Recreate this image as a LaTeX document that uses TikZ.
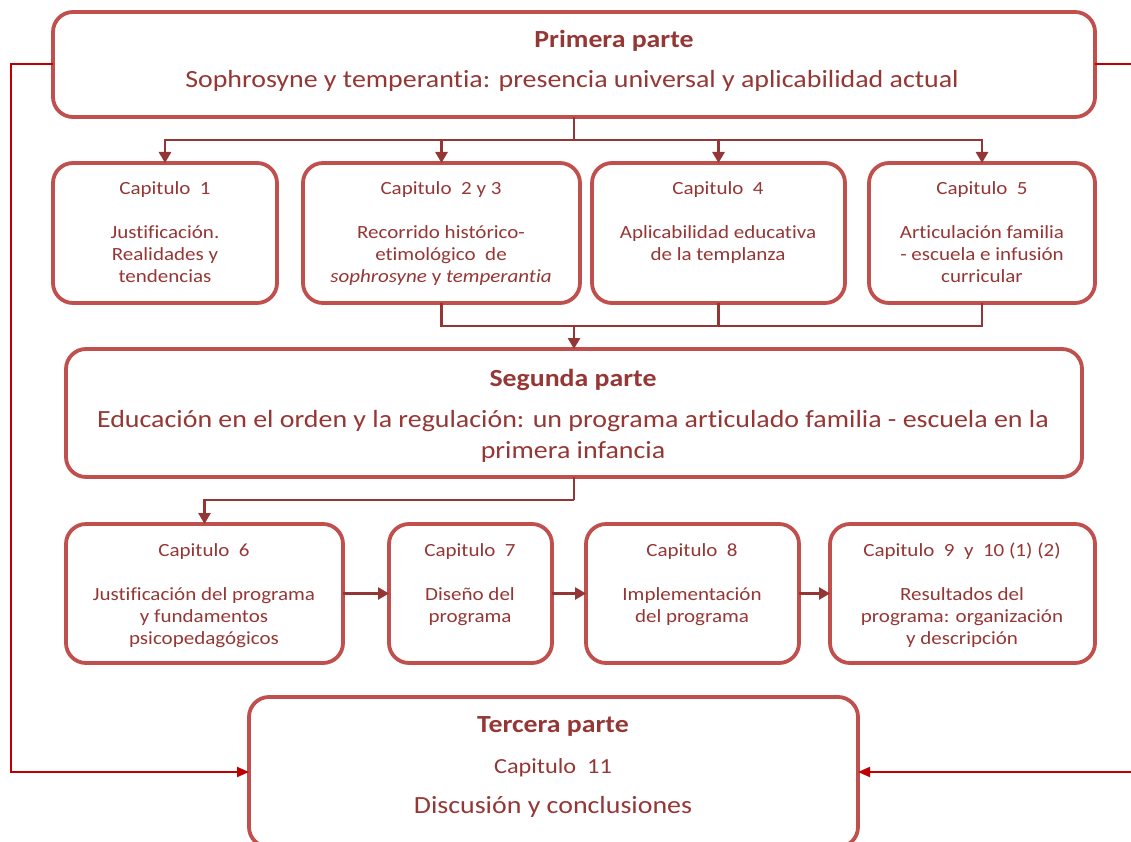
\documentclass[tikz,border=0pt]{standalone}
\usepackage{fontspec}
\setmainfont{Carlito}[FakeStretch=1.13, Ligatures=NoCommon]
\usetikzlibrary{arrows.meta}
\definecolor{boxred}{HTML}{C0504D}
\definecolor{txtred}{HTML}{953735}
\definecolor{linkred}{HTML}{943634}
\definecolor{sidered}{HTML}{C00000}
\begin{document}
\begin{tikzpicture}[x=1pt,y=-1pt,
  box/.style={draw=boxred, line width=3.8pt, rounded corners=20pt, fill=white,
    anchor=north west, inner sep=0pt, outer sep=0pt},
  % multi-line texts are placed by the baseline of their last line
  chap/.style={text=txtred, font=\fontsize{18.6}{22}\selectfont, align=center,
    inner sep=0pt, anchor=base},
  head/.style={text=txtred, font=\bfseries\fontsize{24.6}{28}\selectfont,
    inner sep=0pt, anchor=base},
  big/.style={text=txtred, font=\fontsize{24.7}{31}\selectfont, align=center,
    inner sep=0pt, anchor=base},
  link/.style={draw=linkred, line width=2.6pt},
  linkarrow/.style={link, -{Triangle[length=11pt,width=12pt]}},
  side/.style={draw=sidered, line width=2pt},
  sidearrow/.style={side, -{Triangle[length=12pt,width=10pt]}}
]
\useasboundingbox (0,0) rectangle (1131,842);

% boxes
\node[box, minimum width=1042pt, minimum height=105pt] (p1) at (53,12) {};
\node[box, minimum width=224pt, minimum height=140pt] (c1) at (53,163) {};
\node[box, minimum width=277pt, minimum height=140pt] (c2) at (303,163) {};
\node[box, minimum width=253pt, minimum height=140pt] (c4) at (592,163) {};
\node[box, minimum width=226pt, minimum height=140pt] (c5) at (869,163) {};
\node[box, minimum width=1016pt, minimum height=128pt] (s2) at (66,349) {};
\node[box, minimum width=277pt, minimum height=139pt] (c6) at (66,524) {};
\node[box, minimum width=163pt, minimum height=139pt] (c7) at (389,524) {};
\node[box, minimum width=213pt, minimum height=139pt] (c8) at (586,524) {};
\node[box, minimum width=265pt, minimum height=139pt] (c9) at (830,524) {};
\node[box, minimum width=609pt, minimum height=150pt] (t3) at (249,697) {};

% texts
\node[head] (p1h) at (614,48) {Primera parte};
\node[big] (p1t) at (572,88) {Sophrosyne y temperantia: presencia universal y aplicabilidad actual};

\node[chap] (c1t) at (165,282) {Capitulo\ \ 1\\[22pt]Justificación.\\Realidades y\\tendencias};
\node[chap] (c2t) at (441,282) {Capitulo\ \ 2 y 3\\[22pt]Recorrido histórico-\\etimológico\ \ de\\\textit{sophrosyne} y \textit{temperantia}};
\node[chap] (c4t) at (718,260) {Capitulo\ \ 4\\[22pt]Aplicabilidad educativa\\de la templanza};
\node[chap] (c5t) at (982,282) {Capitulo\ \ 5\\[22pt]Articulación familia\\- escuela e infusión\\curricular};

\node[head] (s2h) at (573,386) {Segunda parte};
\node[big] (s2t) at (573,458) {Educación en el orden y la regulación: un programa articulado familia - escuela en la\\primera infancia};

\node[chap] (c6t) at (204,644) {Capitulo\ \ 6\\[22pt]Justificación del programa\\y fundamentos\\psicopedagógicos};
\node[chap] (c7t) at (470,622) {Capitulo\ \ 7\\[22pt]Diseño del\\programa};
\node[chap] (c8t) at (692,622) {Capitulo\ \ 8\\[22pt]Implementación\\del programa};
\node[chap] (c9t) at (962,644) {Capitulo\ \ 9\ \ y\ \ 10 (1) (2)\\[22pt]Resultados del\\programa: organización\\y descripción};

\node[head] (t3h) at (553,732) {Tercera parte};
\node[chap, font=\fontsize{21.5}{26}\selectfont] (t3c) at (553,773) {Capitulo\ \ 11};
\node[big] (t3t) at (553,813) {Discusión y conclusiones};

% junctions
\coordinate (j1) at (574,140);
\coordinate (j2) at (574,326);
\coordinate (j3) at (574,500);
\coordinate (lx) at (11,0);
\coordinate (rx) at (1131,0);

% first part to chapters 1-5
\draw[link] (p1.south) -- (j1);
\draw[linkarrow] (j1) -| (c1.north);
\draw[linkarrow] (j1) -| (c2.north);
\draw[linkarrow] (j1) -| (c4.north);
\draw[linkarrow] (j1) -| (c5.north);

% chapters 2-5 to second part
\draw[link] (c2.south) |- (j2);
\draw[link] (c4.south) |- (j2);
\draw[link] (c5.south) |- (j2);
\draw[linkarrow] (j2) -- (s2.north);

% second part to chapters 6-10
\draw[link] (s2.south) -- (j3);
\draw[linkarrow] (j3) -| (c6.north);
\draw[linkarrow] (c6.east) -- (c7.west);
\draw[linkarrow] (c7.east) -- (c8.west);
\draw[linkarrow] (c8.east) -- (c9.west);

% side lines into the third part
\draw[sidearrow] (p1.west) -- (p1.west -| lx) -- (t3.west -| lx) -- (t3.west);
\draw[side] (p1.east) -- (p1.east -| rx);
\draw[sidearrow] (t3.east -| rx) -- (t3.east);
\end{tikzpicture}
\end{document}
